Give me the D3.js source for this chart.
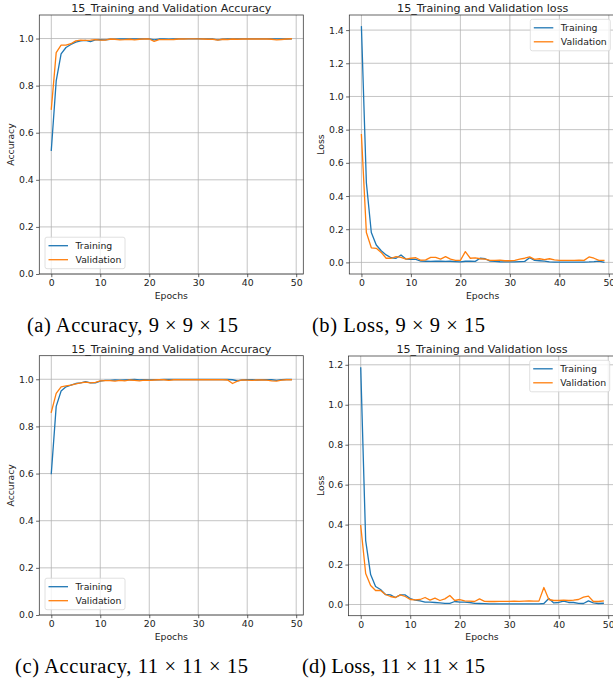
<!DOCTYPE html>
<html>
<head>
<meta charset="utf-8">
<script src="https://cdn.jsdelivr.net/npm/d3@7"></script>
<style>
  html, body { margin: 0; padding: 0; background: #fff; }
  svg { display: block; }
  .tick text { font-family: "DejaVu Sans", sans-serif; }
</style>
</head>
<body>
<svg id="chart" width="613" height="686"></svg>
<script>
// ---------------- DATA ----------------
const epochs = d3.range(0, 50);
const seriesNames = ["Training", "Validation"];
const xTicks = [0, 10, 20, 30, 40, 50];
const accTicks = [0.0, 0.2, 0.4, 0.6, 0.8, 1.0];
const accDomain = [0, 1.1];
const lossTicksB = [0.0, 0.2, 0.4, 0.6, 0.8, 1.0, 1.2, 1.4];
const lossTicksD = [0.0, 0.2, 0.4, 0.6, 0.8, 1.0, 1.2];
const titleAcc = "15_Training and Validation Accuracy";
const titleLoss = "15_Training and Validation loss";

const accTrainA = [0.525, 0.82, 0.935, 0.962, 0.975, 0.985, 0.99, 0.992, 0.987, 0.994,
  0.995, 0.994, 0.997, 0.997, 0.998, 0.998, 0.998, 0.999, 0.998, 0.999,
  0.999, 0.994, 0.998, 0.999, 0.997, 0.998, 0.999, 0.999, 0.999, 0.999,
  1.0, 0.999, 0.999, 0.998, 0.994, 0.997, 0.998, 0.998, 0.999, 0.999,
  0.999, 0.999, 0.999, 0.999, 0.999, 0.999, 0.999, 0.998, 0.998, 0.999];
const accValA = [0.70, 0.94, 0.972, 0.972, 0.978, 0.99, 0.993, 0.992, 0.993, 0.995,
  0.993, 0.993, 0.998, 0.997, 0.994, 0.995, 0.997, 0.994, 0.997, 0.999,
  0.998, 0.988, 0.995, 0.995, 0.995, 0.996, 0.998, 0.998, 0.999, 0.999,
  0.999, 0.998, 0.997, 0.997, 0.993, 0.997, 0.996, 0.998, 0.997, 0.998,
  0.999, 0.998, 0.998, 0.998, 0.998, 0.997, 0.994, 0.996, 0.998, 0.999];

const lossTrainB = [1.42, 0.48, 0.18, 0.105, 0.07, 0.045, 0.028, 0.025, 0.045, 0.02,
  0.018, 0.018, 0.008, 0.007, 0.006, 0.007, 0.008, 0.006, 0.007, 0.005,
  0.003, 0.007, 0.008, 0.006, 0.025, 0.022, 0.008, 0.007, 0.004, 0.003,
  0.003, 0.003, 0.005, 0.006, 0.028, 0.012, 0.01, 0.008, 0.003, 0.002,
  0.002, 0.002, 0.002, 0.002, 0.002, 0.002, 0.003, 0.005, 0.008, 0.001];
const lossValB = [0.77, 0.18, 0.088, 0.085, 0.06, 0.025, 0.025, 0.035, 0.03, 0.02,
  0.025, 0.028, 0.013, 0.015, 0.03, 0.03, 0.02, 0.035, 0.02, 0.012,
  0.012, 0.065, 0.025, 0.027, 0.022, 0.02, 0.012, 0.012, 0.014, 0.01,
  0.01, 0.012, 0.02, 0.025, 0.033, 0.018, 0.022, 0.017, 0.022, 0.015,
  0.012, 0.012, 0.012, 0.012, 0.013, 0.012, 0.033, 0.025, 0.012, 0.012];

const accTrainC = [0.60, 0.885, 0.95, 0.968, 0.975, 0.982, 0.985, 0.99, 0.985, 0.985,
  0.992, 0.995, 0.995, 0.997, 0.996, 0.997, 0.998, 0.999, 0.997, 0.998,
  0.997, 0.998, 0.998, 0.999, 0.999, 0.999, 0.999, 0.999, 0.999, 0.999,
  0.999, 0.999, 0.999, 0.999, 0.999, 0.999, 0.999, 0.998, 0.993, 0.997,
  0.998, 0.998, 0.997, 0.998, 0.998, 0.998, 0.995, 0.998, 0.999, 0.999];
const accValC = [0.86, 0.94, 0.968, 0.972, 0.975, 0.98, 0.985, 0.988, 0.985, 0.987,
  0.993, 0.994, 0.994, 0.992, 0.995, 0.993, 0.997, 0.995, 0.993, 0.996,
  0.995, 0.997, 0.998, 0.998, 0.995, 0.998, 0.998, 0.998, 0.998, 0.998,
  0.998, 0.998, 0.998, 0.998, 0.998, 0.998, 0.997, 0.982, 0.992, 0.997,
  0.996, 0.995, 0.997, 0.997, 0.996, 0.993, 0.992, 0.996, 0.998, 0.998];

const lossTrainD = [1.185, 0.32, 0.15, 0.09, 0.075, 0.05, 0.048, 0.035, 0.048, 0.048,
  0.03, 0.022, 0.018, 0.012, 0.012, 0.01, 0.008, 0.006, 0.006, 0.015,
  0.012, 0.012, 0.01, 0.006, 0.005, 0.004, 0.003, 0.003, 0.003, 0.003,
  0.003, 0.003, 0.003, 0.003, 0.003, 0.003, 0.003, 0.005, 0.03, 0.008,
  0.01, 0.017, 0.01, 0.01, 0.006, 0.005, 0.018, 0.008, 0.005, 0.006];
const lossValD = [0.395, 0.155, 0.095, 0.07, 0.07, 0.05, 0.04, 0.035, 0.048, 0.04,
  0.025, 0.023, 0.025, 0.035, 0.022, 0.032, 0.02, 0.028, 0.045, 0.02,
  0.025, 0.018, 0.017, 0.015, 0.028, 0.016, 0.015, 0.015, 0.016, 0.016,
  0.016, 0.017, 0.016, 0.017, 0.018, 0.017, 0.017, 0.085, 0.025, 0.02,
  0.02, 0.022, 0.02, 0.022, 0.025, 0.037, 0.042, 0.015, 0.015, 0.018];

const captionsText = ["(a) Accuracy, ", "(b) Loss, ", "(c) Accuracy, ", "(d) Loss, "];
const captionsMath = ["9 × 9 × 15", "9 × 9 × 15", "11 × 11 × 15", "11 × 11 × 15"];

// ---------------- LAYOUT ----------------
const colors = ["#1f77b4", "#ff7f0e"];
const FONT = "'DejaVu Sans', sans-serif";
const SERIF = "'Liberation Serif', 'Times New Roman', serif";
const FS = 9.3;

const panels = [
  { left: 39.3, right: 303.3, top: 15, bottom: 274, series: [accTrainA, accValA], yTicks: accTicks, yDomain: accDomain, title: titleAcc, ylabel: "Accuracy", legend: "lower left", capX: 27, capY: 332, capW: 211 },
  { left: 349.3, right: 616, top: 15, bottom: 274, series: [lossTrainB, lossValB], yTicks: lossTicksB, yDomain: null, title: titleLoss, ylabel: "Loss", legend: "upper right", capX: 312, capY: 332, capW: 173 },
  { left: 39.3, right: 303.3, top: 355.7, bottom: 615, series: [accTrainC, accValC], yTicks: accTicks, yDomain: accDomain, title: titleAcc, ylabel: "Accuracy", legend: "lower left", capX: 15, capY: 673, capW: 233 },
  { left: 348.6, right: 615.4, top: 356, bottom: 615.7, series: [lossTrainD, lossValD], yTicks: lossTicksD, yDomain: null, title: titleLoss, ylabel: "Loss", legend: "upper right", capX: 302, capY: 673, capW: 183 }
];

const svg = d3.select("#chart");

panels.forEach((p, i) => {
  const g = svg.append("g");
  const x = d3.scaleLinear().domain([-2.45, 51.45]).range([p.left, p.right]);
  let yd = p.yDomain;
  if (!yd) {
    const all = p.series.flat();
    const mn = d3.min(all), mx = d3.max(all);
    const m = (mx - mn) * 0.05;
    yd = [mn - m, mx + m];
  }
  const y = d3.scaleLinear().domain(yd).range([p.bottom, p.top]);

  // grid
  g.append("g").selectAll("line").data(xTicks).join("line")
    .attr("x1", d => x(d)).attr("x2", d => x(d))
    .attr("y1", p.top).attr("y2", p.bottom)
    .attr("stroke", "#b0b0b0").attr("stroke-width", 0.75);
  g.append("g").selectAll("line").data(p.yTicks).join("line")
    .attr("x1", p.left).attr("x2", p.right)
    .attr("y1", d => y(d)).attr("y2", d => y(d))
    .attr("stroke", "#b0b0b0").attr("stroke-width", 0.75);

  // lines
  const line = d3.line().x((d, k) => x(epochs[k])).y(d => y(d));
  p.series.forEach((s, k) => {
    g.append("path").datum(s).attr("d", line)
      .attr("fill", "none").attr("stroke", colors[k])
      .attr("stroke-width", 1.3).attr("stroke-linejoin", "round").attr("stroke-linecap", "square");
  });

  // frame
  g.append("rect").attr("x", p.left).attr("y", p.top)
    .attr("width", p.right - p.left).attr("height", p.bottom - p.top)
    .attr("fill", "none").attr("stroke", "#333").attr("stroke-width", 0.75);

  // axes
  const xa = g.append("g").attr("transform", `translate(0,${p.bottom})`)
    .call(d3.axisBottom(x).tickValues(xTicks).tickFormat(d3.format("d")).tickSize(3.2).tickPadding(2.3).tickSizeOuter(0));
  const ya = g.append("g").attr("transform", `translate(${p.left},0)`)
    .call(d3.axisLeft(y).tickValues(p.yTicks).tickFormat(d3.format(".1f")).tickSize(3.2).tickPadding(2.3).tickSizeOuter(0));
  [xa, ya].forEach(a => {
    a.select(".domain").remove();
    a.selectAll(".tick line").attr("stroke", "#333").attr("stroke-width", 0.75);
    a.selectAll(".tick text").attr("fill", "#222").style("font-size", FS + "px").style("font-family", FONT);
  });

  // title
  g.append("text").attr("x", (p.left + p.right) / 2).attr("y", p.top - 2.8)
    .attr("text-anchor", "middle").style("font-family", FONT).style("font-size", "11.1px")
    .attr("fill", "#222").text(p.title);
  // x label
  g.append("text").attr("x", (p.left + p.right) / 2).attr("y", p.bottom + 24.5)
    .attr("text-anchor", "middle").style("font-family", FONT).style("font-size", FS + "px")
    .attr("fill", "#222").text("Epochs");
  // y label
  const cy = (p.top + p.bottom) / 2;
  g.append("text").attr("transform", `translate(${p.left - 25},${cy}) rotate(-90)`)
    .attr("text-anchor", "middle").style("font-family", FONT).style("font-size", FS + "px")
    .attr("fill", "#222").text(p.ylabel);

  // legend
  const lw = 80, lh = 31.5;
  let lx, ly;
  if (p.legend === "lower left") { lx = p.left + 5.7; ly = p.bottom - 5.3 - lh; }
  else { lx = p.right - 5.7 - lw; ly = p.top + 4.3; }
  const lg = g.append("g").attr("transform", `translate(${lx},${ly})`);
  lg.append("rect").attr("width", lw).attr("height", lh).attr("rx", 2).attr("ry", 2)
    .attr("fill", "#fff").attr("fill-opacity", 0.8).attr("stroke", "#d6d6d6").attr("stroke-width", 0.75);
  seriesNames.forEach((n, k) => {
    const ry = 8.5 + k * 14;
    lg.append("line").attr("x1", 3.5).attr("x2", 23).attr("y1", ry).attr("y2", ry)
      .attr("stroke", colors[k]).attr("stroke-width", 1.3);
    lg.append("text").attr("x", 30.5).attr("y", ry + 3.4).style("font-family", FONT)
      .style("font-size", FS + "px").attr("fill", "#222").text(n);
  });

  // caption
  const cap = svg.append("text").attr("x", p.capX).attr("y", p.capY)
    .attr("textLength", p.capW).attr("lengthAdjust", "spacing")
    .style("font-family", SERIF).style("font-size", "20.5px").attr("fill", "#000");
  cap.append("tspan").text(captionsText[i]);
  cap.append("tspan").text(captionsMath[i]);
});
</script>
</body>
</html>
